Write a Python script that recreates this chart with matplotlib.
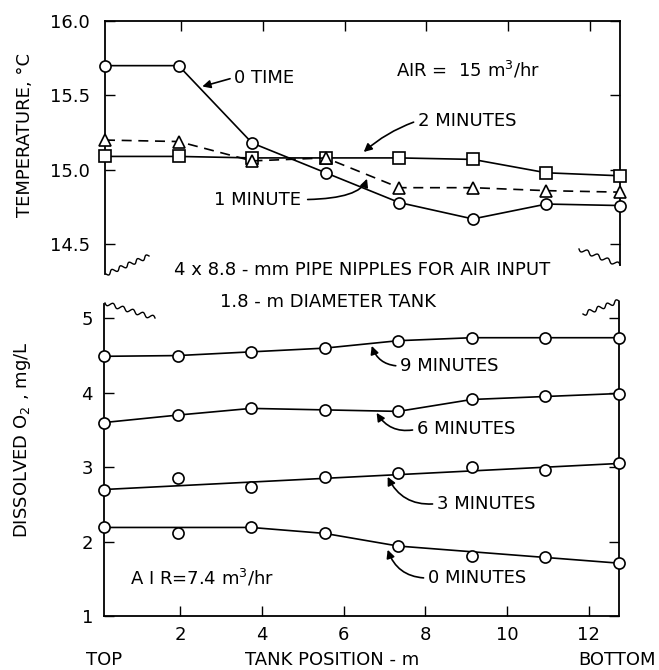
import numpy as np
import matplotlib
matplotlib.use("Agg")
import matplotlib.pyplot as plt

plt.rcParams['font.family'] = ['DejaVu Sans']
plt.rcParams['font.size'] = 13
plt.rcParams['mathtext.default'] = 'regular'

# posicoes de amostragem ao longo do tanque (m)
posicao = [0.14, 1.94, 3.74, 5.54, 7.34, 9.14, 10.94, 12.74]

# temperatura (C), ar = 15 m3/h
temp_0 = [15.70, 15.70, 15.18, 14.98, 14.78, 14.67, 14.77, 14.76]
temp_1 = [15.20, 15.19, 15.06, 15.08, 14.88, 14.88, 14.86, 14.85]
temp_2 = [15.09, 15.09, 15.08, 15.08, 15.08, 15.07, 14.98, 14.96]

# oxigenio dissolvido (mg/L), ar = 7.4 m3/h
od_0 = [2.19, 2.12, 2.19, 2.11, 1.94, 1.80, 1.79, 1.71]
od_3 = [2.70, 2.85, 2.73, 2.87, 2.92, 3.00, 2.96, 3.05]
od_6 = [3.60, 3.70, 3.79, 3.77, 3.75, 3.91, 3.95, 3.99]
od_9 = [4.49, 4.50, 4.55, 4.60, 4.70, 4.74, 4.74, 4.74]

# curvas ajustadas para 0 e 3 minutos
pos_ajuste_0 = [0.14, 3.74, 5.54, 7.34, 12.74]
od_ajuste_0 = [2.19, 2.19, 2.11, 1.94, 1.71]
pos_ajuste_3 = [0.14, 12.74]
od_ajuste_3 = [2.70, 3.05]

x_ticks = [2, 4, 6, 8, 10, 12]

W, H = 659, 670
fig = plt.figure(figsize=(W / 100, H / 100), dpi=100)


def px(x, y):
    return x / W, 1 - y / H


def ondulado(x0, y0, x1, y1, ciclos=5, amp=2.0):
    # linha quebrada (serrilhada) entre dois pontos, em pixels da figura
    t = np.linspace(0, 1, 80)
    dx, dy = x1 - x0, y1 - y0
    L = np.hypot(dx, dy)
    nx, ny = -dy / L, dx / L
    w = amp * np.sin(2 * np.pi * ciclos * t)
    xs = x0 + dx * t + nx * w
    ys = y0 + dy * t + ny * w
    fig.add_artist(plt.Line2D(xs / W, 1 - ys / H, color='black', lw=1.0,
                              transform=fig.transFigure))


mk = dict(ms=8, mfc='white', mec='black', mew=1.2, clip_on=False)

# *** Painel superior: temperatura ***
ax1 = fig.add_axes([105 / W, 1 - 274 / H, 515 / W, 253 / H])
ax1.plot(posicao, temp_0, '-', color='black', lw=1.2, marker='o', zorder=3, **mk)
ax1.plot(posicao, temp_2, '-', color='black', lw=1.2, marker='s', zorder=3, **mk)
ax1.plot(posicao, temp_1, color='black', lw=1.2, ls=(0, (6, 4)), marker='^', zorder=4, **mk)
ax1.set_xlim(0.14, 12.74)
ax1.set_ylim(14.30, 16.0)
ax1.set_yticks([14.5, 15.0, 15.5, 16.0])
ax1.set_yticklabels(['14.5', '15.0', '15.5', '16.0'])
ax1.set_xticks(x_ticks)
ax1.tick_params(direction='in', length=7, width=1, top=True, bottom=False,
                labelbottom=False, right=True, pad=11)
ax1.spines['bottom'].set_visible(False)
ax1.spines['right'].set_bounds(14.36, 16.0)
for s in ax1.spines.values():
    s.set_linewidth(1.3)
ax1.set_ylabel('TEMPERATURE, °C', fontsize=13)
ax1.yaxis.set_label_coords(-0.137, 0.55)

ax1.text(7.25, 15.67, 'AIR =  15 m$^3$/hr', ha='left', va='center')
ax1.annotate('0 TIME', xy=(2.52, 15.56), xytext=(3.3, 15.62), ha='left', va='center',
             arrowprops=dict(arrowstyle='-|>', color='black', lw=1.2,
                             mutation_scale=12, relpos=(0, 0.5), shrinkA=1, shrinkB=0))
ax1.annotate('2 MINUTES', xy=(6.47, 15.12), xytext=(7.79, 15.33), ha='left', va='center',
             arrowprops=dict(arrowstyle='-|>', color='black', lw=1.2,
                             mutation_scale=12, relpos=(0, 0.5), shrinkA=1, shrinkB=0,
                             connectionstyle='arc3,rad=0.1'))
ax1.annotate('1 MINUTE', xy=(6.55, 14.94), xytext=(2.8, 14.80), ha='left', va='center',
             arrowprops=dict(arrowstyle='-|>', color='black', lw=1.2,
                             mutation_scale=12, relpos=(1, 0.5), shrinkA=3, shrinkB=0,
                             connectionstyle='angle3,angleA=0,angleB=70'))

# *** Painel inferior: oxigenio dissolvido ***
ax2 = fig.add_axes([104 / W, 1 - 616 / H, 515 / W, 314 / H])
ax2.plot(pos_ajuste_0, od_ajuste_0, '-', color='black', lw=1.2)
ax2.plot(pos_ajuste_3, od_ajuste_3, '-', color='black', lw=1.2)
ax2.plot(posicao, od_0, 'o', zorder=3, **mk)
ax2.plot(posicao, od_3, 'o', zorder=3, **mk)
ax2.plot(posicao, od_6, '-', color='black', lw=1.2, marker='o', zorder=3, **mk)
ax2.plot(posicao, od_9, '-', color='black', lw=1.2, marker='o', zorder=3, **mk)
ax2.set_xlim(0.14, 12.74)
ax2.set_ylim(1, 5.22)
ax2.set_yticks([1, 2, 3, 4, 5])
ax2.set_xticks(x_ticks)
ax2.tick_params(direction='in', length=7, width=1, right=True, pad=8)
ax2.tick_params(axis='x', pad=7)
ax2.spines['top'].set_visible(False)
ax2.spines['left'].set_bounds(1, 5.19)
for s in ax2.spines.values():
    s.set_linewidth(1.3)
ax2.set_ylabel('DISSOLVED O$_2$ , mg/L', fontsize=13)
ax2.yaxis.set_label_coords(-0.137, 0.56)

ax2.text(0.78, 1.51, 'A I R=7.4 m$^3$/hr', ha='left', va='center')
for txt, xy, xyt in [('9 MINUTES', (6.69, 4.63), (7.38, 4.36)),
                     ('6 MINUTES', (6.81, 3.73), (7.79, 3.51)),
                     ('3 MINUTES', (7.08, 2.87), (8.28, 2.51)),
                     ('0 MINUTES', (7.08, 1.89), (8.06, 1.51))]:
    ax2.annotate(txt, xy=xy, xytext=xyt, ha='left', va='center',
                 arrowprops=dict(arrowstyle='-|>', color='black', lw=1.2,
                                 mutation_scale=12, relpos=(0, 0.5), shrinkA=1, shrinkB=0,
                                 connectionstyle='arc3,rad=-0.35'))

# textos entre os paineis e rotulos do eixo x
fig.text(*px(362, 270), '4 x 8.8 - mm PIPE NIPPLES FOR AIR INPUT', ha='center', va='center')
fig.text(*px(328, 302), '1.8 - m DIAMETER TANK', ha='center', va='center')
fig.text(*px(104, 660), 'TOP', ha='center', va='center')
fig.text(*px(332, 660), 'TANK POSITION - m', ha='center', va='center')
fig.text(*px(617, 660), 'BOTTOM', ha='center', va='center')

# marcas de quebra dos eixos
ondulado(106, 274, 149, 256)
ondulado(579, 249, 620, 265, ciclos=4)
ondulado(105, 303, 155, 318)
ondulado(583, 314, 619, 301, ciclos=4)

fig.savefig('out.png', dpi=100)
